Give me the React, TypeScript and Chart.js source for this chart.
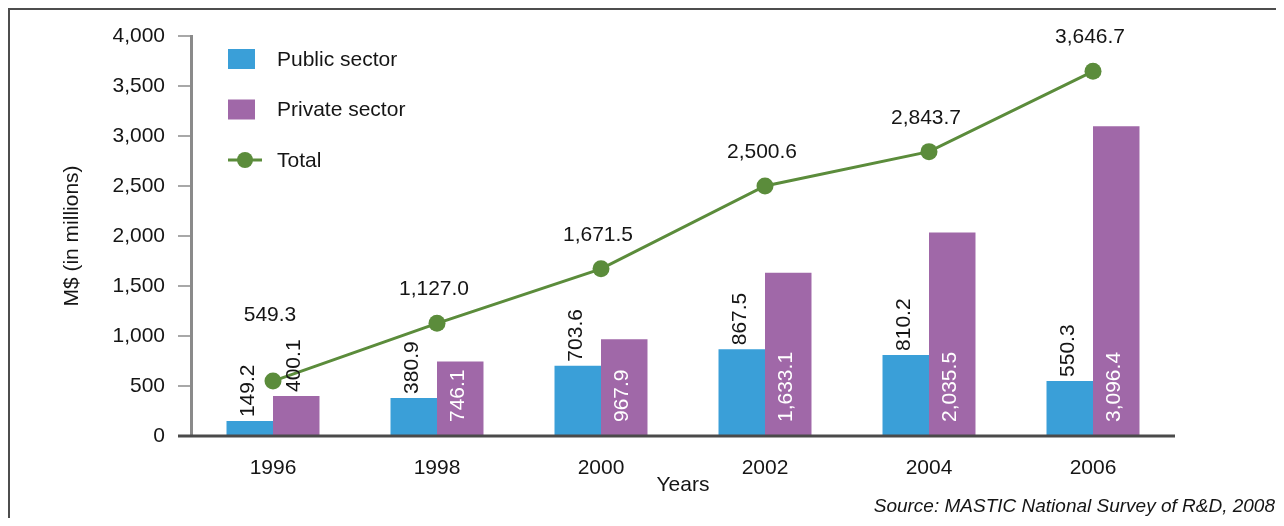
import React, { useEffect, useRef } from 'react';
import { Chart, registerables } from 'chart.js';

Chart.register(...registerables);

// ---- data ----
const years = ['1996', '1998', '2000', '2002', '2004', '2006'];
const publicSector = [149.2, 380.9, 703.6, 867.5, 810.2, 550.3];
const privateSector = [400.1, 746.1, 967.9, 1633.1, 2035.5, 3096.4];
const totalRD = [549.3, 1127.0, 1671.5, 2500.6, 2843.7, 3646.7];
const seriesNames = ['Public sector', 'Private sector', 'Total'];
const yAxisTitle = 'M$ (in millions)';
const xAxisTitle = 'Years';
const sourceNote = 'Source: MASTIC National Survey of R&D, 2008';
const yMin = 0;
const yMax = 4000;
const yStep = 500;

// ---- styles ----
const FONT = '"Liberation Sans", Arial, Helvetica, sans-serif';
const TEXT = '#151515';
const BLUE = '#3a9fd8';
const PURPLE = '#a068a8';
const GREEN = '#5b8c3b';
const W = 1274;
const H = 508;
const PLOT_LEFT = 181;
const PLOT_RIGHT = 1165;
const PLOT_TOP = 26;
const PLOT_BOTTOM = 426;

const fmt = (v: number, d: number) =>
  v.toLocaleString('en-US', { minimumFractionDigits: d, maximumFractionDigits: d });

const overlayPlugin = {
  id: 'overlay',
  afterDatasetsDraw(chart: any) {
    const ctx: CanvasRenderingContext2D = chart.ctx;
    const { left, right, bottom } = chart.chartArea;
    ctx.save();

    // x axis line (extends left past the y axis like the tick marks)
    ctx.strokeStyle = '#4a4a4a';
    ctx.lineWidth = 3;
    ctx.beginPath();
    ctx.moveTo(left - 13, bottom);
    ctx.lineTo(right, bottom);
    ctx.stroke();

    ctx.font = `21px ${FONT}`;
    const labelTop: number[] = years.map(() => Infinity);

    // public sector labels: rotated, above bar
    const pubMeta = chart.getDatasetMeta(0);
    pubMeta.data.forEach((bar: any, i: number) => {
      const { x, y } = bar.getProps(['x', 'y'], true);
      const txt = fmt(publicSector[i], 1);
      const w = ctx.measureText(txt).width;
      ctx.save();
      ctx.translate(x - 2, y - 4);
      ctx.rotate(-Math.PI / 2);
      ctx.textAlign = 'left';
      ctx.textBaseline = 'middle';
      ctx.fillStyle = TEXT;
      ctx.fillText(txt, 0, 0);
      ctx.restore();
      labelTop[i] = Math.min(labelTop[i], y - 4 - w);
    });

    // private sector labels: inside bar bottom (white) or above when too short
    const privMeta = chart.getDatasetMeta(1);
    privMeta.data.forEach((bar: any, i: number) => {
      const { x, y, base } = bar.getProps(['x', 'y', 'base'], true);
      const txt = fmt(privateSector[i], 1);
      const w = ctx.measureText(txt).width;
      ctx.save();
      ctx.textAlign = 'left';
      ctx.textBaseline = 'middle';
      if (base - y > w + 16) {
        ctx.translate(x - 2, base - 13);
        ctx.rotate(-Math.PI / 2);
        ctx.fillStyle = '#ffffff';
        ctx.fillText(txt, 0, 0);
      } else {
        ctx.translate(x - 2, y - 4);
        ctx.rotate(-Math.PI / 2);
        ctx.fillStyle = TEXT;
        ctx.fillText(txt, 0, 0);
        labelTop[i] = Math.min(labelTop[i], y - 4 - w);
      }
      ctx.restore();
    });

    // total labels above points
    const totMeta = chart.getDatasetMeta(2);
    totMeta.data.forEach((pt: any, i: number) => {
      const { x, y } = pt.getProps(['x', 'y'], true);
      const txt = fmt(totalRD[i], 1);
      const baseline = Math.min(y - 28, labelTop[i] - 18);
      ctx.textAlign = 'center';
      ctx.textBaseline = 'alphabetic';
      ctx.fillStyle = TEXT;
      ctx.fillText(txt, x - 3, baseline);
    });

    ctx.restore();
  },
  afterDraw(chart: any) {
    const ctx: CanvasRenderingContext2D = chart.ctx;
    const { left, right, top, bottom } = chart.chartArea;
    ctx.save();
    ctx.fillStyle = TEXT;
    ctx.font = `21px ${FONT}`;

    // y axis title
    ctx.save();
    ctx.translate(62, (top + bottom) / 2);
    ctx.rotate(-Math.PI / 2);
    ctx.textAlign = 'center';
    ctx.textBaseline = 'middle';
    ctx.fillText(yAxisTitle, 0, 0);
    ctx.restore();

    // x axis title
    ctx.textAlign = 'center';
    ctx.textBaseline = 'middle';
    ctx.fillText(xAxisTitle, (left + right) / 2, 475);

    // source note
    ctx.font = `italic 19px ${FONT}`;
    ctx.textAlign = 'right';
    ctx.fillText(sourceNote, W - 9, 497);

    // legend
    const ds = chart.data.datasets;
    const rowY = [49, 99.5, 150];
    const markX = 218;
    const textX = 267;
    ctx.font = `21px ${FONT}`;
    ctx.textAlign = 'left';
    ds.forEach((d: any, i: number) => {
      const yc = rowY[i];
      if (d.type === 'line') {
        ctx.strokeStyle = d.borderColor;
        ctx.lineWidth = 3;
        ctx.beginPath();
        ctx.moveTo(markX, yc);
        ctx.lineTo(markX + 34, yc);
        ctx.stroke();
        ctx.fillStyle = d.pointBackgroundColor;
        ctx.beginPath();
        ctx.arc(markX + 17, yc, 8, 0, Math.PI * 2);
        ctx.fill();
      } else {
        ctx.fillStyle = d.backgroundColor;
        ctx.fillRect(markX, yc - 10, 27, 20);
      }
      ctx.fillStyle = TEXT;
      ctx.fillText(d.label, textX, yc + 1);
    });

    ctx.restore();
  },
};

export default function App() {
  const ref = useRef<HTMLCanvasElement>(null);

  useEffect(() => {
    if (!ref.current) return;
    const chart = new Chart(ref.current, {
      type: 'bar',
      data: {
        labels: years,
        datasets: [
          {
            type: 'bar',
            label: seriesNames[0],
            data: publicSector,
            backgroundColor: BLUE,
            borderWidth: 0,
            order: 1,
          },
          {
            type: 'bar',
            label: seriesNames[1],
            data: privateSector,
            backgroundColor: PURPLE,
            borderWidth: 0,
            order: 2,
          },
          {
            type: 'line',
            label: seriesNames[2],
            data: totalRD,
            borderColor: GREEN,
            backgroundColor: GREEN,
            borderWidth: 3,
            pointRadius: 8.5,
            pointBackgroundColor: GREEN,
            pointBorderWidth: 0,
            tension: 0,
            order: 0,
          },
        ],
      } as any,
      options: {
        animation: false,
        responsive: false,
        devicePixelRatio: 1,
        categoryPercentage: 0.567,
        barPercentage: 1,
        layout: {
          padding: { left: 0, top: PLOT_TOP, right: W - PLOT_RIGHT, bottom: 0 },
        },
        plugins: {
          legend: { display: false },
          tooltip: { enabled: false },
          title: { display: false },
        },
        scales: {
          x: {
            type: 'category',
            offset: true,
            grid: { display: false },
            border: { display: false },
            ticks: {
              font: { family: FONT, size: 21 },
              color: TEXT,
              padding: 12,
              maxRotation: 0,
            },
            afterFit: (scale: any) => {
              scale.height = H - PLOT_BOTTOM;
            },
          },
          y: {
            min: yMin,
            max: yMax,
            grid: {
              drawOnChartArea: false,
              drawTicks: true,
              tickLength: 13,
              color: '#a8a8a8',
              lineWidth: 2,
            },
            border: { display: true, color: '#8a8a8a', width: 3 },
            ticks: {
              stepSize: yStep,
              font: { family: FONT, size: 21 },
              color: TEXT,
              padding: 13,
              callback: (v: any) => fmt(Number(v), 0),
            },
            afterFit: (scale: any) => {
              scale.width = PLOT_LEFT;
            },
          },
        },
      } as any,
      plugins: [overlayPlugin],
    });
    return () => chart.destroy();
  }, []);

  return (
    <div
      style={{
        width: 1276,
        height: 510,
        boxSizing: 'border-box',
        borderLeft: '2px solid #4d4d4d',
        borderTop: '2px solid #4d4d4d',
        background: '#ffffff',
        overflow: 'hidden',
      }}
    >
      <canvas ref={ref} width={W} height={H} style={{ display: 'block', width: W, height: H }} />
    </div>
  );
}
